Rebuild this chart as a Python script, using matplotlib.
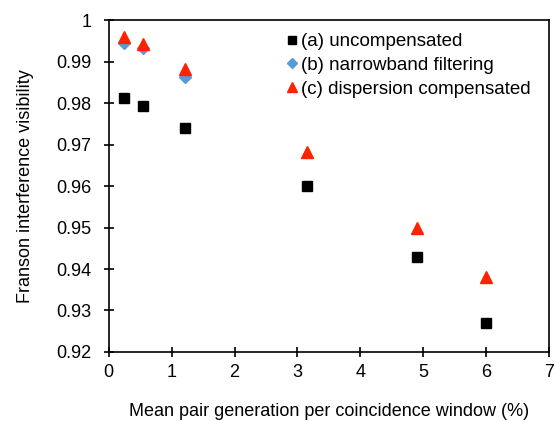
import matplotlib
matplotlib.use("Agg")
import matplotlib.pyplot as plt

plt.rcParams["font.family"] = ["Liberation Sans", "DejaVu Sans"]

# mean pair generation per coincidence window (%)
x_uncomp = [0.24, 0.54, 1.21, 3.15, 4.9, 6.0]
v_uncomp = [0.9813, 0.9792, 0.9740, 0.9600, 0.9430, 0.9270]

x_narrow = [0.24, 0.54, 1.21]
v_narrow = [0.9944, 0.9932, 0.9862]

x_comp = [0.24, 0.54, 1.21, 3.15, 4.9, 6.0]
v_comp = [0.9960, 0.9942, 0.9882, 0.9682, 0.9500, 0.9380]

fig = plt.figure(figsize=(5.55, 4.21), dpi=100)
ax = fig.add_axes([0.196, 0.164, 0.793, 0.788])

ax.plot(x_uncomp, v_uncomp, linestyle="none", marker="s", markersize=7,
        color="black", label="(a) uncompensated")
ax.plot(x_narrow, v_narrow, linestyle="none", marker="D", markersize=6,
        color="#5B9BD5", label="(b) narrowband filtering")
ax.plot(x_comp, v_comp, linestyle="none", marker="^", markersize=8.5,
        color="#FF2200", label="(c) dispersion compensated")

ax.set_xlim(0, 7)
ax.set_ylim(0.92, 1.0)
ax.set_xticks(range(0, 8))
ax.set_yticks([0.92, 0.93, 0.94, 0.95, 0.96, 0.97, 0.98, 0.99, 1.0])
ax.set_yticklabels(["0.92", "0.93", "0.94", "0.95", "0.96", "0.97",
                    "0.98", "0.99", "1"])
ax.tick_params(direction="inout", length=7.2, width=1.2, labelsize=13,
               top=False, right=False)
ax.tick_params(axis="x", pad=5)
ax.tick_params(axis="y", pad=9)
for s in ax.spines.values():
    s.set_linewidth(1.2)

ax.set_xlabel("Mean pair generation per coincidence window (%)", fontsize=13,
              labelpad=16)
ax.set_ylabel("Franson interference visibility", fontsize=13, labelpad=16)

ax.legend(loc="upper right", frameon=False, fontsize=13.5, handletextpad=0.05,
          handlelength=0.9, borderaxespad=0.2, labelspacing=0.35,
          markerscale=0.85, bbox_to_anchor=(0.985, 0.995))

fig.savefig("out.png", dpi=100)
